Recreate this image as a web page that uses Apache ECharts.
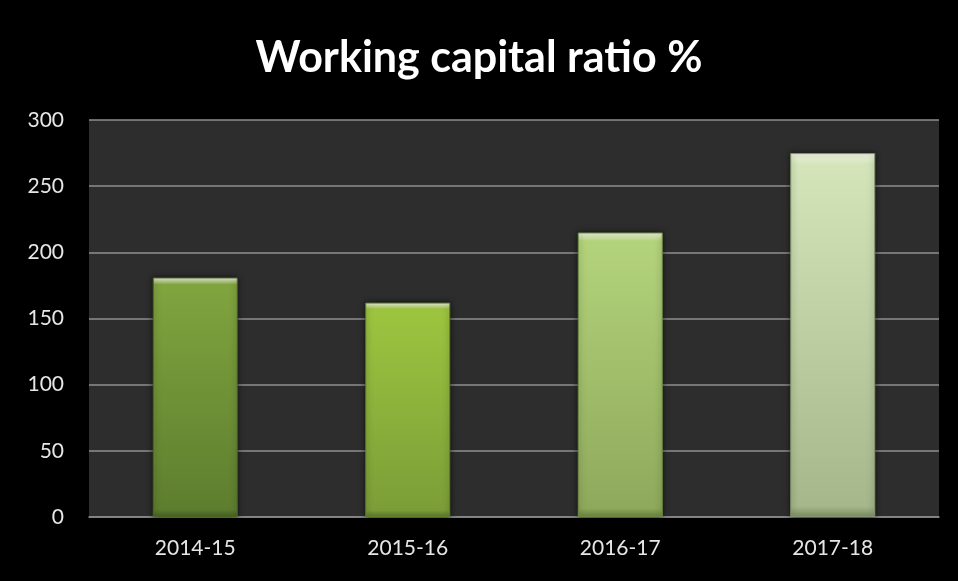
<!DOCTYPE html>
<html>
<head>
<meta charset="utf-8">
<script src="https://cdn.jsdelivr.net/npm/echarts@6/dist/echarts.min.js"></script>
<style>
html,body{margin:0;padding:0;background:#000;}
#chart{width:958px;height:581px;}
</style>
</head>
<body>
<div id="chart"></div>
<script>
var categories = ['2014-15', '2015-16', '2016-17', '2017-18'];
var values = [181, 162, 215, 275];
var yTicks = [0, 50, 100, 150, 200, 250, 300];
var barTop = ['#80a43e', '#9dc53f', '#b3d37b', '#d4e5ba'];
var barBottom = ['#5e7e2f', '#7c9e38', '#8ea95b', '#a5b78b'];
var barEdge = ['#4a6424', '#5f7d2a', '#6e8a44', '#84946c'];

var chart = echarts.init(document.getElementById('chart'));
var data = values.map(function (v, i) {
  return {
    value: v,
    itemStyle: {
      color: new echarts.graphic.LinearGradient(0, 0, 0, 1, [
        {offset: 0, color: '#f4f8e6'},
        {offset: 0.03, color: barTop[i]},
        {offset: 0.97, color: barBottom[i]},
        {offset: 1, color: barEdge[i]}
      ]),
      borderColor: barEdge[i],
      borderWidth: 1,
      shadowColor: 'rgba(0,0,0,0.6)',
      shadowBlur: 6
    }
  };
});
chart.setOption({
  backgroundColor: '#000000',
  title: {
    text: 'Working capital ratio %',
    left: 'center',
    top: 32,
    textStyle: {color: '#ffffff', fontFamily: 'Lato', fontWeight: 'bold', fontSize: 43}
  },
  grid: {
    left: 89, right: 19, top: 120, bottom: 64,
    show: true, backgroundColor: '#2d2d2d', borderWidth: 0
  },
  xAxis: {
    type: 'category',
    data: categories,
    axisLine: {lineStyle: {color: '#8a8a8a', width: 1.5}},
    axisTick: {show: false},
    axisLabel: {color: '#e6e6e6', fontFamily: 'Lato', fontSize: 21, margin: 21}
  },
  yAxis: {
    type: 'value',
    min: yTicks[0],
    max: yTicks[yTicks.length - 1],
    interval: yTicks[1] - yTicks[0],
    axisLine: {show: false},
    axisTick: {show: false},
    splitLine: {lineStyle: {color: '#8f8f8f', width: 1.5}},
    axisLabel: {color: '#e6e6e6', fontFamily: 'Lato', fontSize: 21, margin: 25}
  },
  series: [{
    type: 'bar',
    data: data,
    barWidth: '40%',
    animation: false
  }]
});
</script>
</body>
</html>
